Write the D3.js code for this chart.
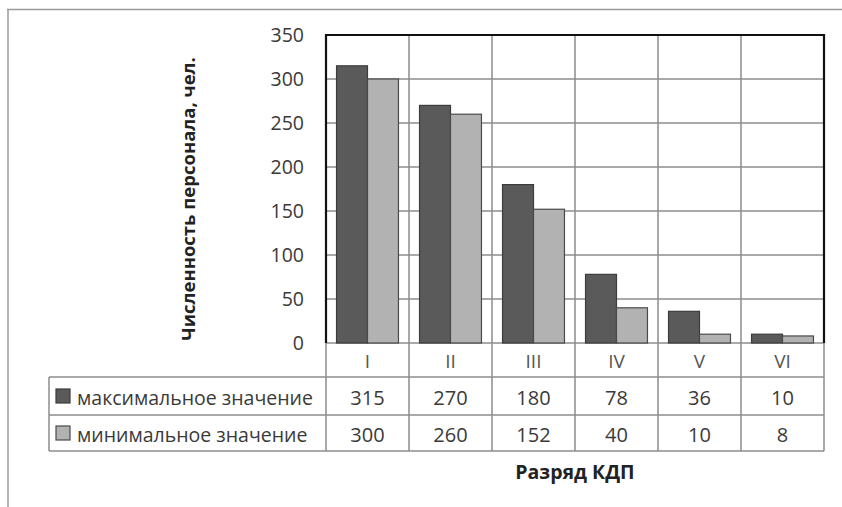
<!DOCTYPE html>
<html>
<head>
<meta charset="utf-8">
<script src="https://cdn.jsdelivr.net/npm/d3@7"></script>
<style>
  html, body { margin: 0; padding: 0; background: #fff; }
  svg { display: block; font-family: "Open Sans", sans-serif; }
</style>
</head>
<body>
<svg id="chart" width="842" height="507"></svg>
<script>
// Staffing by KDP grade: maximum and minimum headcount
const categories = ["I", "II", "III", "IV", "V", "VI"];
const seriesNames = ["максимальное значение", "минимальное значение"];
const maxValues = [315, 270, 180, 78, 36, 10];
const minValues = [300, 260, 152, 40, 10, 8];
const yTicks = [0, 50, 100, 150, 200, 250, 300, 350];
const yTitle = "Численность персонала, чел.";
const xTitle = "Разряд КДП";

const seriesValues = [maxValues, minValues];
const fills = ["#5a5a5a", "#b2b2b2"];
const strokes = ["#3c3c3c", "#4a4a4a"];

const svg = d3.select("#chart");

const plot = { left: 326, right: 824, top: 35, bottom: 343 };
const table = { left: 49, rowTop: [343, 377, 415], rowBottom: 451 };

// outer frame (only top and left edges are inside the view)
svg.append("line").attr("x1", 7).attr("x2", 842).attr("y1", 9.5).attr("y2", 9.5)
  .attr("stroke", "#9a9a9a").attr("stroke-width", 1.5);
svg.append("line").attr("x1", 8).attr("x2", 8).attr("y1", 9).attr("y2", 507)
  .attr("stroke", "#9a9a9a").attr("stroke-width", 1.5);

const x = d3.scaleBand().domain(categories).range([plot.left, plot.right]).paddingInner(0).paddingOuter(0);
const x1 = d3.scaleBand().domain(seriesNames).range([0, x.bandwidth()]).paddingInner(0).paddingOuter(0.34);
const y = d3.scaleLinear().domain([0, 350]).range([plot.bottom, plot.top]);

const gridColor = "#8c8c8c";

// horizontal gridlines
svg.append("g").selectAll("line").data(yTicks.filter(t => t > 0)).join("line")
  .attr("x1", plot.left).attr("x2", plot.right)
  .attr("y1", d => y(d)).attr("y2", d => y(d))
  .attr("stroke", gridColor).attr("stroke-width", 1.5);

// vertical category separators through plot and table
const bounds = categories.map(c => x(c)).concat([plot.right]);
svg.append("g").selectAll("line").data(bounds.slice(1, -1)).join("line")
  .attr("x1", d => d).attr("x2", d => d)
  .attr("y1", plot.top).attr("y2", table.rowBottom)
  .attr("stroke", gridColor).attr("stroke-width", 1.5);

// table frame
const tbl = svg.append("g").attr("stroke", gridColor).attr("stroke-width", 1.5);
[table.rowTop[1], table.rowTop[2], table.rowBottom].forEach(yy => {
  tbl.append("line").attr("x1", table.left).attr("x2", plot.right).attr("y1", yy).attr("y2", yy);
});
tbl.append("line").attr("x1", plot.left).attr("x2", plot.right).attr("y1", plot.bottom).attr("y2", plot.bottom);
tbl.append("line").attr("x1", table.left).attr("x2", table.left).attr("y1", table.rowTop[1]).attr("y2", table.rowBottom);
tbl.append("line").attr("x1", plot.left).attr("x2", plot.left).attr("y1", plot.bottom).attr("y2", table.rowBottom);
tbl.append("line").attr("x1", plot.right).attr("x2", plot.right).attr("y1", plot.bottom).attr("y2", table.rowBottom);

// bars
seriesNames.forEach((s, si) => {
  svg.append("g").selectAll("rect").data(seriesValues[si]).join("rect")
    .attr("x", (d, i) => x(categories[i]) + x1(s))
    .attr("y", d => y(d))
    .attr("width", x1.bandwidth())
    .attr("height", d => y(0) - y(d))
    .attr("fill", fills[si])
    .attr("stroke", strokes[si]).attr("stroke-width", 1.2);
});

// plot area border (left, top, right)
svg.append("path")
  .attr("d", `M${plot.left},${plot.bottom}V${plot.top}H${plot.right}V${plot.bottom}`)
  .attr("fill", "none").attr("stroke", "#111").attr("stroke-width", 2.2);

// y axis labels
const yAxis = svg.append("g").attr("transform", `translate(${plot.left},0)`)
  .call(d3.axisLeft(y).tickValues(yTicks).tickSize(0).tickPadding(22));
yAxis.select(".domain").remove();
yAxis.selectAll("text").attr("font-family", "Open Sans").attr("font-size", 19.5).attr("fill", "#3a3a3a");

// category labels row
svg.append("g").selectAll("text").data(categories).join("text")
  .attr("x", d => x(d) + x.bandwidth() / 2)
  .attr("y", (table.rowTop[0] + table.rowTop[1]) / 2 + 1)
  .attr("text-anchor", "middle").attr("dominant-baseline", "central")
  .attr("font-size", 19).attr("fill", "#555")
  .text(d => d);

// value rows with legend keys
seriesNames.forEach((s, si) => {
  const cy = (table.rowTop[si + 1] + (si === 0 ? table.rowTop[2] : table.rowBottom)) / 2;
  svg.append("rect").attr("x", 56).attr("y", cy - 7).attr("width", 14).attr("height", 14)
    .attr("fill", fills[si]).attr("stroke", strokes[si]).attr("stroke-width", 1.2);
  svg.append("text").attr("x", 77).attr("y", cy + 1)
    .attr("dominant-baseline", "central").attr("font-size", 19.5).attr("fill", "#3a3a3a")
    .text(s);
  svg.append("g").selectAll("text").data(seriesValues[si]).join("text")
    .attr("x", (d, i) => x(categories[i]) + x.bandwidth() / 2)
    .attr("y", cy + 1)
    .attr("text-anchor", "middle").attr("dominant-baseline", "central")
    .attr("font-size", 20).attr("fill", "#3a3a3a")
    .text(d => d);
});

// axis titles
svg.append("text")
  .attr("transform", `translate(187,${(plot.top + plot.bottom) / 2 + 10}) rotate(-90)`)
  .attr("text-anchor", "middle").attr("dominant-baseline", "central")
  .attr("font-size", 18.5).attr("font-weight", "bold").attr("fill", "#222")
  .text(yTitle);
svg.append("text")
  .attr("x", (plot.left + plot.right) / 2).attr("y", 471)
  .attr("text-anchor", "middle").attr("dominant-baseline", "central")
  .attr("font-size", 19.5).attr("font-weight", "bold").attr("fill", "#222")
  .text(xTitle);
</script>
</body>
</html>
